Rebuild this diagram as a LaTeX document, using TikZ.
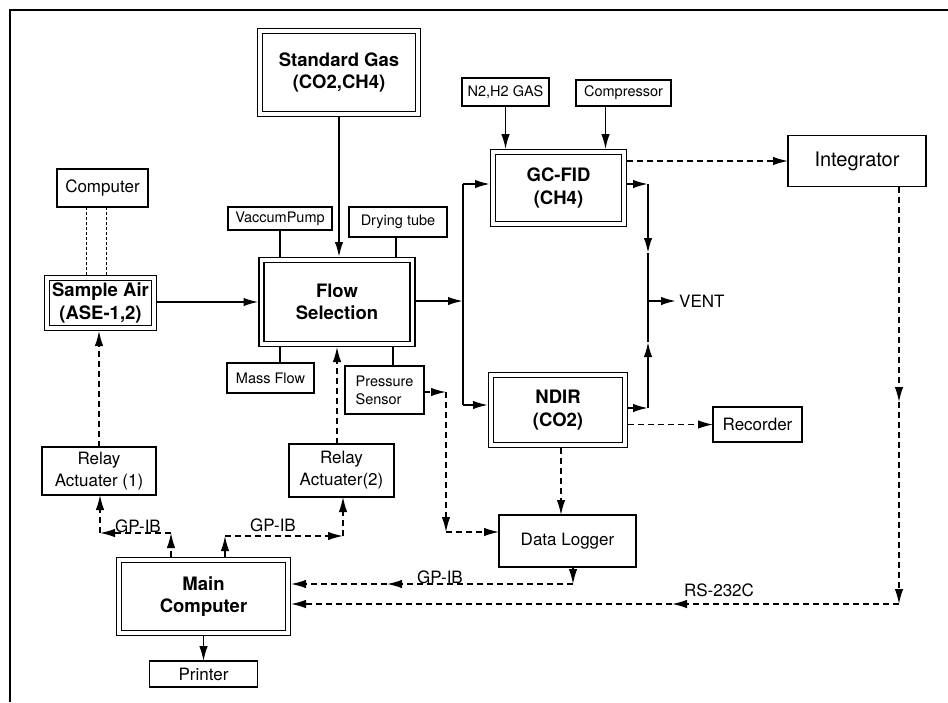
\documentclass[tikz,border=0pt]{standalone}
\usepackage{fontspec}
\setmainfont{TeX Gyre Heros}
\usetikzlibrary{arrows.meta,positioning,calc}

\begin{document}
\begin{tikzpicture}[x=1pt,y=-1pt,>={Latex[length=15pt,width=8.5pt]},
  block/.style={draw,rectangle,line width=1.4pt,outer sep=0pt,inner sep=1pt,align=center,
    font=\fontsize{17}{22}\selectfont},
  small/.style={block,font=\fontsize{14.5}{18}\selectfont},
  dblock/.style={block,double,double distance=3.6pt,line width=1.3pt,outer sep=3pt,
    font=\fontsize{18.5}{22.5}\selectfont\bfseries},
  lbl/.style={inner sep=1pt,font=\fontsize{17}{20}\selectfont},
  pipe/.style={line width=1.9pt},
  link/.style={line width=1.4pt},
  sig/.style={line width=1.4pt,dash pattern=on 6pt off 4pt},
  dots/.style={line width=1.3pt,dash pattern=on 3pt off 2pt}]

        \useasboundingbox (0,0) rectangle (948,702);
        \draw[line width=1.5pt] (10,702) -- (10,10) -- (948,10);

        % double boxes
        \node[dblock,minimum width=158pt,minimum height=83pt] (std) at (339,72.5) {Standard Gas\\(CO2,CH4)};
        \node[dblock,minimum width=107pt,minimum height=50pt] (sample) at (100.5,303) {Sample Air\\(ASE-1,2)};
        \node[dblock,minimum width=151pt,minimum height=84pt] (flow) at (337,302) {Flow\\Selection};
        \node[dblock,minimum width=131pt,minimum height=72pt] (gc) at (558.5,188) {GC-FID\\(CH4)};
        \node[dblock,minimum width=134pt,minimum height=70pt] (ndir) at (558,410) {NDIR\\(CO2)};
        \node[dblock,minimum width=169pt,minimum height=73pt] (main) at (203.5,596.5) {Main\\Computer};

        % plain boxes
        \node[block,minimum width=91pt,minimum height=38pt] (computer) at (102.5,188) {Computer};
        \node[small,minimum width=104pt,minimum height=23pt] (vacpump) at (280,218.5) {VaccumPump};
        \node[small,minimum width=98pt,minimum height=30pt] (drying) at (398,222) {Drying tube};
        \node[small,minimum width=87pt,minimum height=30pt] (mass) at (270.5,378) {Mass Flow};
        \node[small,minimum width=79pt,minimum height=48pt,align=left] (press) at (384.5,390) {Pressure\\Sensor};
        \node[small,minimum width=87pt,minimum height=28pt] (n2) at (505.5,92) {N2,H2 GAS};
        \node[small,minimum width=95pt,minimum height=26pt] (comp) at (623.5,93) {Compressor};
        \node[block,minimum width=138pt,minimum height=51pt,font=\fontsize{20}{24}\selectfont] (integ) at (857,161) {Integrator};
        \node[block,minimum width=89pt,minimum height=35pt] (recorder) at (757.5,424.5) {Recorder};
        \node[block,minimum width=137pt,minimum height=52pt] (logger) at (567.5,541) {Data Logger};
        \node[block,minimum width=114pt,minimum height=48pt] (relay1) at (99,471) {Relay\\Actuater (1)};
        \node[block,minimum width=105pt,minimum height=53pt] (relay2) at (341.5,470.5) {Relay\\Actuater(2)};
        \node[block,minimum width=108pt,minimum height=26pt] (printer) [below=25pt of main] {Printer};

        % bends
        \coordinate (split) at (463,301);
        \coordinate (toGC) at (463,184);
        \coordinate (toNDIR) at (463,405);
        \coordinate (outGC) at (648,184);
        \coordinate (downGC) at (648,253);
        \coordinate (vent) at (648,301);
        \coordinate (upNDIR) at (648,342);
        \coordinate (outNDIR) at (648,408);
        \coordinate (rsA) at (899,402);
        \coordinate (rs) at (899,604);
        \coordinate (rsB) at (672,604);
        \coordinate (ps1) at (446,392);
        \coordinate (ps2) at (446,532);
        \coordinate (lg1) at (573,584);
        \coordinate (lg2) at (387,584);
        \coordinate (ga) at (171,533);
        \coordinate (gb) at (100,533);
        \coordinate (gd) at (225,536);
        \coordinate (ge) at (343,536);

        % gas lines
        \draw[pipe,->] (std.south) -- (std.south |- flow.north);
        \draw[pipe,->] (sample.east |- flow.west) -- (flow.west);
        \draw[link] (vacpump.south) -- (vacpump.south |- flow.north);
        \draw[link] ([xshift=-2pt]drying.south) -- ([xshift=-2pt]drying.south |- flow.north);
        \draw[link] (vacpump.south |- flow.south) -- (vacpump.south |- mass.north);
        \draw[link] ([xshift=8.5pt]press.north) -- ([xshift=8.5pt]press.north |- flow.south);
        \draw[pipe,->] (flow.east |- split) -- (split);
        \draw[pipe] (toGC) -- (toNDIR);
        \draw[pipe,->] (toGC) -- (toGC -| gc.west);
        \draw[pipe,->] (toNDIR) -- (toNDIR -| ndir.west);
        \draw[link,->] (n2.south) -- (n2.south |- gc.north);
        \draw[link,->] ([xshift=-18pt]comp.south) -- ([xshift=-18pt]comp.south |- gc.north);
        \draw[pipe,->] (outGC -| gc.east) -- (outGC);
        \draw[pipe,->] (outGC) -- (downGC);
        \draw[pipe] (downGC) -- (upNDIR);
        \draw[pipe,->] (outNDIR -| ndir.east) -- (outNDIR);
        \draw[pipe,->] (outNDIR) -- (upNDIR);
        \node[lbl,anchor=west,inner sep=3pt] (venttext) at (676,301) {VENT};
        \draw[pipe,->] (vent) -- (venttext.west);
        \draw[dots] ([xshift=-16pt]computer.south) -- ([xshift=-16pt]computer.south |- sample.north);
        \draw[dots] ([xshift=4pt]computer.south) -- ([xshift=4pt]computer.south |- sample.north);

        % signal lines
        \draw[sig,->] (gc.east |- integ.west) -- (integ.west);
        \draw[sig,->] (integ.south -| rs) -- (rsA);
        \draw[sig,->] (rsA) -- (rs);
        \draw[sig,->] (rs) -- (rsB);
        \draw[sig,->] (rsB) -- (rsB -| main.east);
        \node[lbl,anchor=south] (rslbl) at (719,598) {RS-232C};
        \draw[sig,->] (ndir.east |- recorder.west) -- (recorder.west);
        \draw[sig,->] ([xshift=3pt]ndir.south) -- ([xshift=3pt]ndir.south |- logger.north);
        \draw[sig,->] (press.east |- ps1) -- (ps1);
        \draw[sig,->] (ps1) -- (ps2);
        \draw[sig,->] (ps2) -- (ps2 -| logger.west);
        \draw[sig,->] (logger.south -| lg1) -- (lg1);
        \draw[sig,->] (lg1) -- (lg2);
        \draw[sig,->] (lg2) -- (lg2 -| main.east);
        \node[lbl,anchor=south] (gplbl3) at (440,585) {GP-IB};
        \draw[sig,->] (relay1.north) -- (relay1.north |- sample.south);
        \draw[sig,->] (flow.south |- relay2.north) -- (flow.south);
        \draw[sig,->] (main.north -| ga) -- (ga);
        \draw[sig,->] (ga) -- (gb);
        \draw[sig,->] (gb) -- (gb |- relay1.south);
        \node[lbl,anchor=south] (gplbl1) at (138,534) {GP-IB};
        \draw[sig,->] (main.north -| gd) -- (gd);
        \draw[sig,->] (gd) -- (ge);
        \draw[sig,->] (ge) -- (ge |- relay2.south);
        \node[lbl,anchor=south] (gplbl2) at (273,533) {GP-IB};
        \draw[link,->] (main.south) -- (main.south |- printer.north);
\end{tikzpicture}
\end{document}
